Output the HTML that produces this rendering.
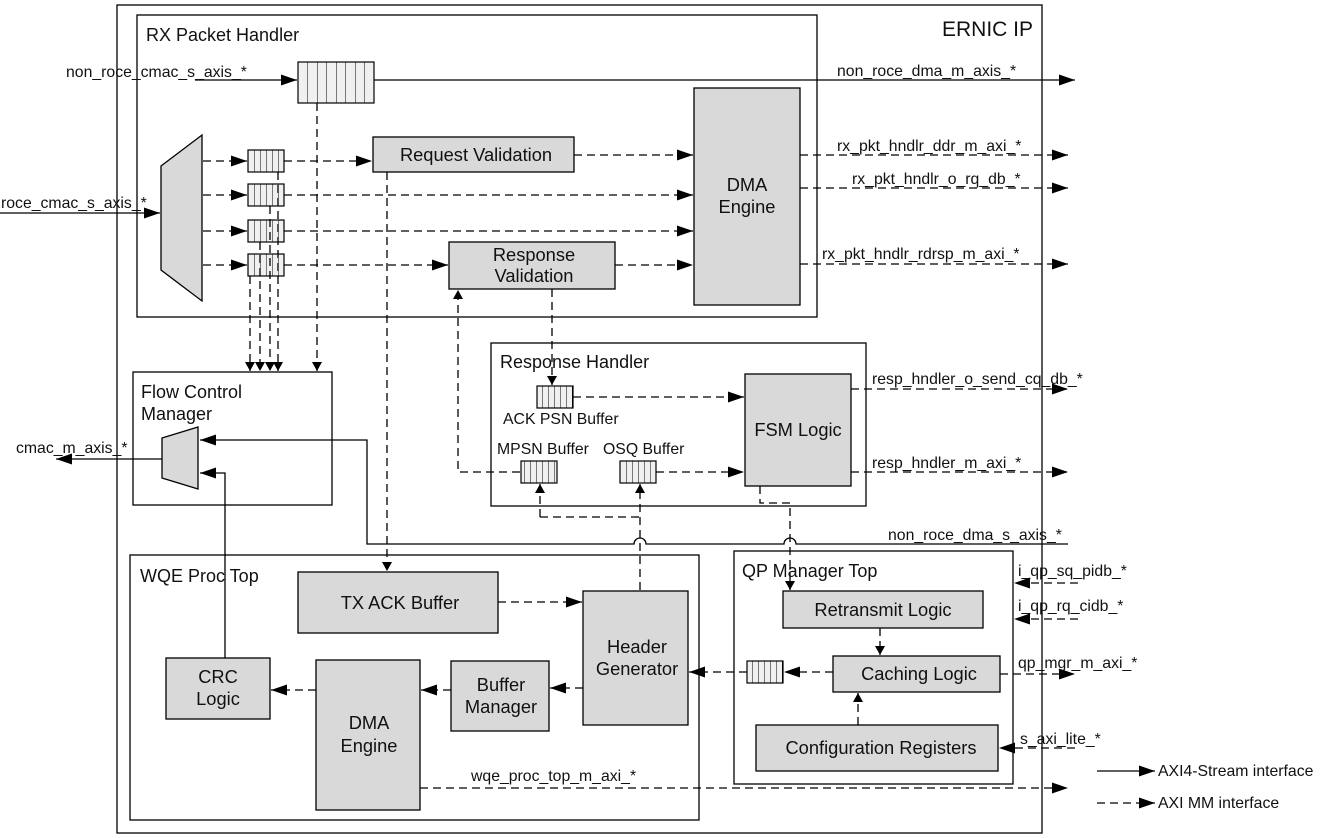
<!DOCTYPE html>
<html><head><meta charset="utf-8"><style>
html,body{margin:0;padding:0;background:#fff}
svg{display:block}
text{font-family:"Liberation Sans",sans-serif;fill:#111}
.s{font-size:15.8px}
.b{font-size:18.3px}
.t{font-size:18px}
</style></head><body>
<svg width="1320" height="838" viewBox="0 0 1320 838" xmlns="http://www.w3.org/2000/svg">
<defs>
<marker id="a" viewBox="0 0 10 10" refX="10" refY="5" markerWidth="9" markerHeight="10" markerUnits="userSpaceOnUse" orient="auto" preserveAspectRatio="none"><path d="M0,0L10,5L0,10z" fill="#000"/></marker>
<marker id="a2" viewBox="0 0 10 10" refX="10" refY="5" markerWidth="16" markerHeight="11" markerUnits="userSpaceOnUse" orient="auto" preserveAspectRatio="none"><path d="M0,0L10,5L0,10z" fill="#000"/></marker>
<pattern id="c" width="6" height="10" patternUnits="userSpaceOnUse" x="248"><rect width="6" height="10" fill="#f0f0f0"/><line x1="0" y1="0" x2="0" y2="10" stroke="#000" stroke-width="1"/></pattern>
<pattern id="c2" width="9.5" height="10" patternUnits="userSpaceOnUse" x="298"><rect width="9.5" height="10" fill="#f0f0f0"/><line x1="0" y1="0" x2="0" y2="10" stroke="#000" stroke-width="1"/></pattern>
</defs>
<g fill="none" stroke="#000" stroke-width="1.3">
<rect x="117" y="5" width="925" height="828"/>
<rect x="137" y="15" width="680" height="302"/>
<rect x="133" y="372" width="199" height="133"/>
<rect x="491" y="343" width="375" height="163"/>
<rect x="130" y="555" width="569" height="265"/>
<rect x="734" y="551" width="279" height="233"/>
</g>
<g fill="#d9d9d9" stroke="#000" stroke-width="1.3">
<path d="M161,166L202,135L202,301L161,270z"/>
<path d="M162,438L198,427L198,489L162,478z"/>
<rect x="373" y="137" width="201" height="35"/>
<rect x="449" y="242" width="166" height="47"/>
<rect x="694" y="88" width="106" height="217"/>
<rect x="745" y="374" width="106" height="112"/>
<rect x="298" y="572" width="200" height="61"/>
<rect x="583" y="591" width="105" height="134"/>
<rect x="451" y="661" width="98" height="70"/>
<rect x="316" y="660" width="104" height="150"/>
<rect x="166" y="658" width="104" height="61"/>
<rect x="783" y="591" width="200" height="37"/>
<rect x="833" y="656" width="167" height="36"/>
<rect x="756" y="725" width="242" height="46"/>
</g>
<g stroke="#000" stroke-width="1.2">
<rect x="298" y="62" width="76" height="41" fill="url(#c2)"/>
<g fill="url(#c)">
<rect x="248" y="150" width="36" height="22"/>
<rect x="248" y="184" width="36" height="22"/>
<rect x="248" y="220" width="36" height="22"/>
<rect x="248" y="254" width="36" height="22"/>
<rect x="537" y="386" width="36" height="22" transform="translate(0,0)"/>
<rect x="521" y="461" width="36" height="22"/>
<rect x="620" y="461" width="36" height="22"/>
<rect x="747" y="661" width="36" height="22"/>
</g>
</g>
<g fill="none" stroke="#000" stroke-width="1.3">
<path d="M195,80H297" marker-end="url(#a2)"/>
<path d="M374,80H1075" marker-end="url(#a2)"/>
<path d="M0,213H160" marker-end="url(#a2)"/>
<path d="M162,459H56" marker-end="url(#a2)"/>
<path d="M1068,544H796a6,6 0 0 0 -12,0H646a6,6 0 0 0 -12,0H367V440H200" marker-end="url(#a2)"/>
<path d="M225,658V473H200" marker-end="url(#a2)"/>
<path d="M1097,771H1155" marker-end="url(#a2)"/>
</g>
<g fill="none" stroke="#000" stroke-width="1.3" stroke-dasharray="8,5">
<path d="M203,161H247" marker-end="url(#a2)"/>
<path d="M203,195H247" marker-end="url(#a2)"/>
<path d="M203,231H247" marker-end="url(#a2)"/>
<path d="M203,265H247" marker-end="url(#a2)"/>
<path d="M284,161H372" marker-end="url(#a2)"/>
<path d="M574,155H693" marker-end="url(#a2)"/>
<path d="M284,195H693" marker-end="url(#a2)"/>
<path d="M284,231H693" marker-end="url(#a2)"/>
<path d="M284,265H448" marker-end="url(#a2)"/>
<path d="M615,265H693" marker-end="url(#a2)"/>
<path d="M800,155H1068" marker-end="url(#a2)"/>
<path d="M800,188H1068" marker-end="url(#a2)"/>
<path d="M800,264H1068" marker-end="url(#a2)"/>
<path d="M250,276V371" marker-end="url(#a)"/>
<path d="M260,242V371" marker-end="url(#a)"/>
<path d="M270,206V371" marker-end="url(#a)"/>
<path d="M278,172V371" marker-end="url(#a)"/>
<path d="M317,103V371" marker-end="url(#a)"/>
<path d="M387,172V571" marker-end="url(#a)"/>
<path d="M552,289V385" marker-end="url(#a)"/>
<path d="M520,472H458V290" marker-end="url(#a)"/>
<path d="M573,397H744" marker-end="url(#a2)"/>
<path d="M656,472H744" marker-end="url(#a2)"/>
<path d="M851,389H1068" marker-end="url(#a2)"/>
<path d="M851,472H1068" marker-end="url(#a2)"/>
<path d="M760,486V503H790V590" marker-end="url(#a)"/>
<path d="M540,517V484" marker-end="url(#a)"/>
<path d="M540,517H640"/>
<path d="M640,590V484" marker-end="url(#a)"/>
<path d="M498,602H582" marker-end="url(#a2)"/>
<path d="M583,688H550" marker-end="url(#a2)"/>
<path d="M451,690H421" marker-end="url(#a2)"/>
<path d="M316,690H271" marker-end="url(#a2)"/>
<path d="M420,788H1068" marker-end="url(#a2)"/>
<path d="M880,628V655" marker-end="url(#a)"/>
<path d="M858,725V693" marker-end="url(#a)"/>
<path d="M833,672H784" marker-end="url(#a2)"/>
<path d="M747,672H689" marker-end="url(#a2)"/>
<path d="M1078,583H1014" marker-end="url(#a2)"/>
<path d="M1078,619H1014" marker-end="url(#a2)"/>
<path d="M1000,674H1075" marker-end="url(#a2)"/>
<path d="M1075,748H999" marker-end="url(#a2)"/>
<path d="M1097,803H1155" marker-end="url(#a2)"/>
</g>
<text x="942" y="36" style="font-size:21px">ERNIC IP</text>
<text x="146" y="41" class="t">RX Packet Handler</text>
<text x="141" y="398" class="t">Flow Control</text>
<text x="141" y="420" class="t">Manager</text>
<text x="500" y="368" class="t">Response Handler</text>
<text x="140" y="582" class="t">WQE Proc Top</text>
<text x="742" y="577" class="t">QP Manager Top</text>
<g class="b" text-anchor="middle">
<text x="476" y="161">Request Validation</text>
<text x="534" y="261">Response</text>
<text x="534" y="282">Validation</text>
<text x="747" y="191">DMA</text>
<text x="747" y="213">Engine</text>
<text x="798" y="436">FSM Logic</text>
<text x="400" y="609">TX ACK Buffer</text>
<text x="637" y="653">Header</text>
<text x="637" y="675">Generator</text>
<text x="501" y="691">Buffer</text>
<text x="501" y="713">Manager</text>
<text x="369" y="729">DMA</text>
<text x="369" y="752">Engine</text>
<text x="218" y="683">CRC</text>
<text x="218" y="705">Logic</text>
<text x="883" y="616">Retransmit Logic</text>
<text x="919" y="680">Caching Logic</text>
<text x="881" y="754">Configuration Registers</text>
</g>
<g class="s">
<text x="66" y="77">non_roce_cmac_s_axis_*</text>
<text x="837" y="76">non_roce_dma_m_axis_*</text>
<text x="1" y="208">roce_cmac_s_axis_*</text>
<text x="837" y="151">rx_pkt_hndlr_ddr_m_axi_*</text>
<text x="852" y="184">rx_pkt_hndlr_o_rq_db_*</text>
<text x="822" y="259">rx_pkt_hndlr_rdrsp_m_axi_*</text>
<text x="16" y="453">cmac_m_axis_*</text>
<text x="503" y="424">ACK PSN Buffer</text>
<text x="497" y="454">MPSN Buffer</text>
<text x="603" y="454">OSQ Buffer</text>
<text x="872" y="384">resp_hndler_o_send_cq_db_*</text>
<text x="872" y="468">resp_hndler_m_axi_*</text>
<text x="888" y="540">non_roce_dma_s_axis_*</text>
<text x="471" y="781">wqe_proc_top_m_axi_*</text>
<text x="1018" y="576">i_qp_sq_pidb_*</text>
<text x="1018" y="611">i_qp_rq_cidb_*</text>
<text x="1018" y="668">qp_mgr_m_axi_*</text>
<text x="1020" y="744">s_axi_lite_*</text>
<text x="1158" y="776">AXI4-Stream interface</text>
<text x="1158" y="808">AXI MM interface</text>
</g>
</svg>
</body></html>
